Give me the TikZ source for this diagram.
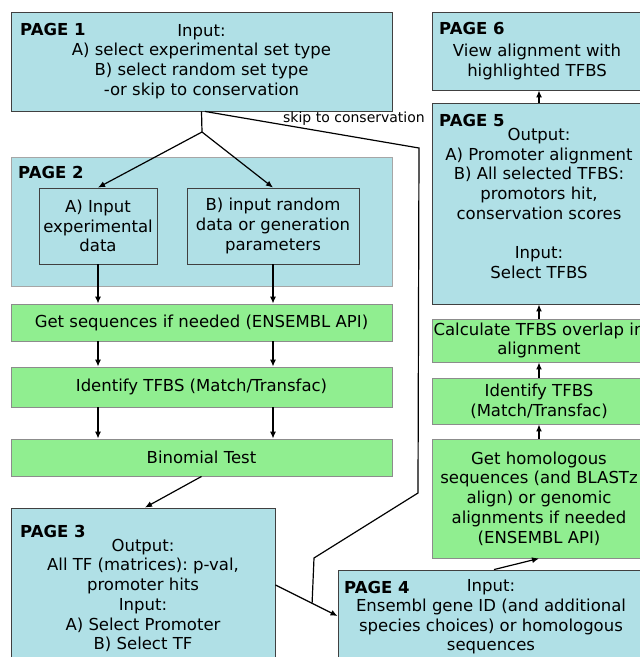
\documentclass[tikz,border=0pt]{standalone}
\usepackage{fontspec}
\setmainfont{DejaVu Sans}
\usetikzlibrary{arrows.meta,calc}
\definecolor{pageblue}{RGB}{176,224,230}
\definecolor{stepgreen}{RGB}{144,238,144}
\frenchspacing
\begin{document}
\begin{tikzpicture}[x=1pt,y=-1pt]
\tikzstyle{every node}+=[inner sep=0pt, align=center, font=\fontsize{16.5}{19.7}\selectfont]
\tikzstyle{pagebox}=[draw=black!75, line width=0.9pt, fill=pageblue]
\tikzstyle{stepbox}=[draw=black!45, line width=0.9pt, fill=stepgreen]
\tikzstyle{pagelbl}=[anchor=west, font=\fontsize{16.5}{19.7}\selectfont\bfseries]
\tikzstyle{link}=[line width=1.2pt]
\tikzstyle{flow}=[link, -{Latex[length=7pt,width=6pt]}]
\path[use as bounding box, clip] (0,0) rectangle (640,657);
\node[pagebox, minimum width=381pt, minimum height=99pt] (page1) at (201.5,61.5) {Input:\\A) select experimental set type\\B) select random set type\\-or skip to conservation};
\node[pagelbl] (lbl1) at (20,29) {PAGE 1};
\node[pagebox, draw=black!35, minimum width=381pt, minimum height=129pt] (page2) at (201.5,221.5) {};
\node[pagelbl] (lbl2) at (18,172) {PAGE 2};
\node[pagebox, minimum width=118pt, minimum height=76pt] (inA) at (98,226) {A) Input\\experimental\\data};
\node[pagebox, minimum width=172pt, minimum height=76pt] (inB) at (273,226) {B) input random\\data or generation\\parameters};
\node[stepbox, minimum width=381pt, minimum height=37pt] (getseq) at (201.5,322.5) {Get sequences if needed (ENSEMBL API)};
\node[stepbox, minimum width=381pt, minimum height=40pt] (findtfbs) at (201.5,387) {Identify TFBS (Match/Transfac)};
\node[stepbox, minimum width=381pt, minimum height=37pt] (binom) at (201.5,457.5) {Binomial Test};
\node[pagebox, minimum width=264pt, minimum height=172pt] (page3) at (143,594) {};
\node[pagelbl] (lbl3) at (20,531) {PAGE 3};
\node (p3text) at (143,595.5) {Output:\\All TF (matrices): p-val,\\promoter hits\\Input:\\A) Select Promoter\\B) Select TF};
\node[pagebox, minimum width=312pt, minimum height=110pt] (page4) at (494,625) {};
\node[pagelbl] (lbl4) at (344,587) {PAGE 4};
\node (p4text) at (491,617) {Input:\\Ensembl gene ID (and additional\\species choices) or homologous\\sequences};
\node[pagebox, minimum width=214pt, minimum height=78pt] (page6) at (539,51) {};
\node[pagelbl] (lbl6) at (439,28) {PAGE 6};
\node (p6text) at (537,62) {View alignment with\\highlighted TFBS};
\node[pagebox, minimum width=214pt, minimum height=201pt] (page5) at (539,203.5) {Output:\\A) Promoter alignment\\B) All selected TFBS:\\promotors hit,\\conservation scores\\[19.7pt]Input:\\Select TFBS};
\node[pagelbl] (lbl5) at (439,120) {PAGE 5};
\node[stepbox, minimum width=214pt, minimum height=43pt] (overlap) at (539,340.5) {Calculate TFBS overlap in\\alignment};
\node[stepbox, minimum width=214pt, minimum height=46pt] (findcons) at (539,401) {Identify TFBS\\(Match/Transfac)};
\node[stepbox, minimum width=214pt, minimum height=119pt] (gethomol) at (539,498.5) {Get homologous\\sequences (and BLASTz\\align) or genomic\\alignments if needed\\(ENSEMBL API)};
\coordinate (fork) at (202,132);
\draw[link] (page1.south) -- (fork);
\draw[flow] (fork) -- (inA.north);
\draw[flow] (fork) -- (inB.north);
\draw[flow] (inA.south) -- (inA.south |- getseq.north);
\draw[flow] (inB.south) -- (inB.south |- getseq.north);
\draw[flow] (inA.south |- getseq.south) -- (inA.south |- findtfbs.north);
\draw[flow] (inB.south |- getseq.south) -- (inB.south |- findtfbs.north);
\draw[flow] (inA.south |- findtfbs.south) -- (inA.south |- binom.north);
\draw[flow] (inB.south |- findtfbs.south) -- (inB.south |- binom.north);
\draw[flow] (binom.south) -- ([xshift=2pt]page3.north);
\coordinate (p3out) at (page3.east |- 0,585);
\coordinate (p4in) at (page4.west |- 0,616);
\draw[flow] (p3out) -- (p4in);
\coordinate (join) at ($(p3out)!0.59!(p4in)$);
\coordinate (skip1) at (419,148);
\coordinate (skip2) at (418,493);
\coordinate (skip3) at (314,558);
\draw[link] ([xshift=3.5pt]page1.south) -- (skip1) -- (skip2) -- (skip3) -- (join);
\node[font=\fontsize{14}{16}\selectfont] (skiplbl) at (354,119) {skip to conservation};
\draw[flow] (page4.north) -- (gethomol.south);
\draw[flow] (gethomol.north) -- (findcons.south);
\draw[flow] (findcons.north) -- (overlap.south);
\draw[flow] (overlap.north) -- (page5.south);
\draw[flow] (page5.north) -- (page6.south);
\end{tikzpicture}
\end{document}
